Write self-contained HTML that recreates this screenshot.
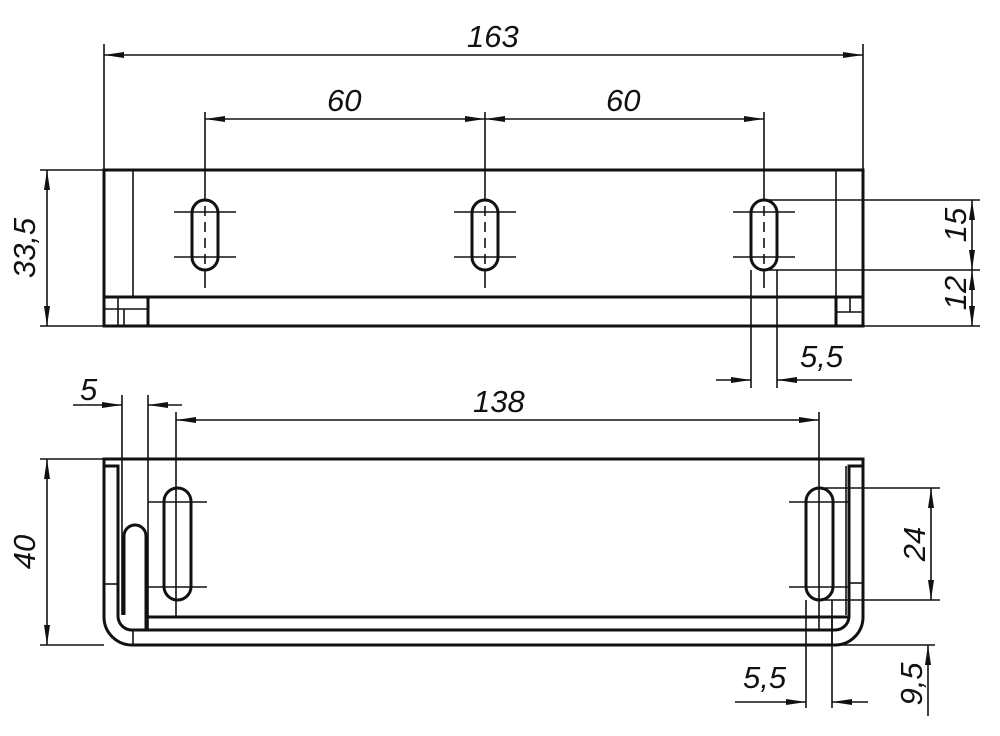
<!DOCTYPE html>
<html><head><meta charset="utf-8"><style>
html,body{margin:0;padding:0;background:#fff}
svg{display:block}
text{font-family:"Liberation Sans",sans-serif;font-style:italic;font-size:31px;fill:#111}
</style></head><body>
<svg width="1000" height="736" viewBox="0 0 1000 736" xmlns="http://www.w3.org/2000/svg">
<defs>
<marker id="a" viewBox="0 0 20 8" refX="20" refY="4" markerWidth="20" markerHeight="8" markerUnits="userSpaceOnUse" orient="auto-start-reverse"><path d="M0,1 L20,4 L0,7 Z" fill="#111"/></marker>
</defs>
<g stroke="#111" fill="none">
<!-- TOP VIEW -->
<g stroke-width="3">
<rect x="104" y="170" width="759" height="156"/>
<line x1="148" y1="297" x2="836" y2="297"/>
<rect x="192" y="200" width="26" height="70" rx="13"/>
<rect x="472" y="200" width="26" height="70" rx="13"/>
<rect x="751" y="200" width="26" height="70" rx="13"/>
<rect x="104" y="297" width="44" height="29"/>
<rect x="836" y="297" width="27" height="29"/>
</g>
<g stroke-width="1.6">
<line x1="133" y1="170" x2="133" y2="297"/>
<line x1="836" y1="170" x2="836" y2="297"/>
<line x1="104" y1="309" x2="148" y2="309"/>
<line x1="118" y1="297" x2="118" y2="326"/>
<line x1="124" y1="309" x2="124" y2="326"/>
<line x1="836" y1="312" x2="863" y2="312"/>
<line x1="850" y1="297" x2="850" y2="312"/>
<line x1="174" y1="212" x2="236" y2="212"/><line x1="174" y1="257" x2="236" y2="257"/>
<line x1="454" y1="212" x2="516" y2="212"/><line x1="454" y1="257" x2="516" y2="257"/>
<line x1="733" y1="212" x2="795" y2="212"/><line x1="733" y1="257" x2="795" y2="257"/>
<line x1="205" y1="112" x2="205" y2="200"/><line x1="205" y1="270" x2="205" y2="288"/>
<line x1="205" y1="206" x2="205" y2="264" stroke-dasharray="10 6"/>
<line x1="485" y1="112" x2="485" y2="200"/><line x1="485" y1="270" x2="485" y2="288"/>
<line x1="485" y1="206" x2="485" y2="264" stroke-dasharray="10 6"/>
<line x1="764" y1="112" x2="764" y2="200"/><line x1="764" y1="270" x2="764" y2="288"/>
<line x1="764" y1="206" x2="764" y2="264" stroke-dasharray="10 6"/>
<!-- 163 -->
<line x1="104" y1="44" x2="104" y2="170"/>
<line x1="863" y1="44" x2="863" y2="170"/>
<line x1="104" y1="55" x2="863" y2="55" marker-start="url(#a)" marker-end="url(#a)"/>
<line x1="205" y1="119" x2="485" y2="119" marker-start="url(#a)" marker-end="url(#a)"/>
<line x1="485" y1="119" x2="764" y2="119" marker-start="url(#a)" marker-end="url(#a)"/>
<!-- 33,5 -->
<line x1="40" y1="170" x2="104" y2="170"/>
<line x1="40" y1="326" x2="104" y2="326"/>
<line x1="47" y1="170" x2="47" y2="326" marker-start="url(#a)" marker-end="url(#a)"/>
<!-- 15 / 12 -->
<line x1="764" y1="200" x2="980" y2="200"/>
<line x1="764" y1="270" x2="980" y2="270"/>
<line x1="863" y1="326" x2="980" y2="326"/>
<line x1="972" y1="200" x2="972" y2="270" marker-start="url(#a)" marker-end="url(#a)"/>
<line x1="972" y1="270" x2="972" y2="326" marker-start="url(#a)" marker-end="url(#a)"/>
<!-- 5,5 top -->
<line x1="751" y1="270" x2="751" y2="388"/>
<line x1="777" y1="270" x2="777" y2="388"/>
<line x1="716" y1="380" x2="751" y2="380" marker-end="url(#a)"/>
<line x1="852" y1="380" x2="777" y2="380" marker-end="url(#a)"/>
</g>

<!-- BOTTOM VIEW -->
<g stroke-width="3">
<path d="M104,459 H863 V617 A28,28 0 0 1 835,645 H132 A28,28 0 0 1 104,617 Z"/>
<path d="M104,466 H118 V617 A14,14 0 0 0 132,630 H835 A14,14 0 0 0 849,617 V466 H863"/>
<line x1="848" y1="617" x2="148" y2="617"/>
<rect x="164" y="488" width="27" height="112" rx="13.5"/>
<rect x="806" y="488" width="27" height="112" rx="13.5"/>
<path d="M124,615 V536 A11,11 0 0 1 146,536 V630"/>
</g>
<g stroke-width="1.6">
<line x1="122" y1="395" x2="122" y2="615"/>
<line x1="148" y1="395" x2="148" y2="630"/>
<line x1="176" y1="412" x2="176" y2="617"/>
<line x1="819" y1="412" x2="819" y2="630"/>
<line x1="846" y1="466" x2="846" y2="615"/>
<line x1="849" y1="583" x2="863" y2="583"/>
<line x1="104" y1="584" x2="118" y2="584"/>
<line x1="133" y1="630" x2="133" y2="645"/>
<line x1="832" y1="617" x2="832" y2="645"/>
<line x1="148" y1="502" x2="207" y2="502"/><line x1="148" y1="587" x2="207" y2="587"/>
<line x1="789" y1="502" x2="848" y2="502"/><line x1="789" y1="587" x2="848" y2="587"/>
<line x1="73" y1="405" x2="122" y2="405" marker-end="url(#a)"/>
<line x1="182" y1="405" x2="148" y2="405" marker-end="url(#a)"/>
<line x1="176" y1="420" x2="819" y2="420" marker-start="url(#a)" marker-end="url(#a)"/>
<line x1="40" y1="459" x2="104" y2="459"/>
<line x1="40" y1="645" x2="104" y2="645"/>
<line x1="47" y1="459" x2="47" y2="645" marker-start="url(#a)" marker-end="url(#a)"/>
<line x1="819" y1="488" x2="940" y2="488"/>
<line x1="819" y1="600" x2="940" y2="600"/>
<line x1="931" y1="488" x2="931" y2="600" marker-start="url(#a)" marker-end="url(#a)"/>
<line x1="835" y1="645" x2="935" y2="645"/>
<line x1="928" y1="716" x2="928" y2="645" marker-end="url(#a)"/>
<line x1="806" y1="600" x2="806" y2="708"/>
<line x1="832" y1="600" x2="832" y2="708"/>
<line x1="735" y1="702" x2="806" y2="702" marker-end="url(#a)"/>
<line x1="868" y1="702" x2="832" y2="702" marker-end="url(#a)"/>
</g>
</g>
<text x="467" y="47">163</text>
<text x="327" y="111">60</text>
<text x="606" y="111">60</text>
<text transform="translate(35,248) rotate(-90)" text-anchor="middle">33,5</text>
<text transform="translate(966,225) rotate(-90)" text-anchor="middle">15</text>
<text transform="translate(966,293) rotate(-90)" text-anchor="middle">12</text>
<text x="800" y="367">5,5</text>
<text x="80" y="400">5</text>
<text x="473" y="412">138</text>
<text transform="translate(35,552) rotate(-90)" text-anchor="middle">40</text>
<text transform="translate(925,544) rotate(-90)" text-anchor="middle">24</text>
<text transform="translate(922,684) rotate(-90)" text-anchor="middle">9,5</text>
<text x="743" y="688">5,5</text>
</svg>
</body></html>
